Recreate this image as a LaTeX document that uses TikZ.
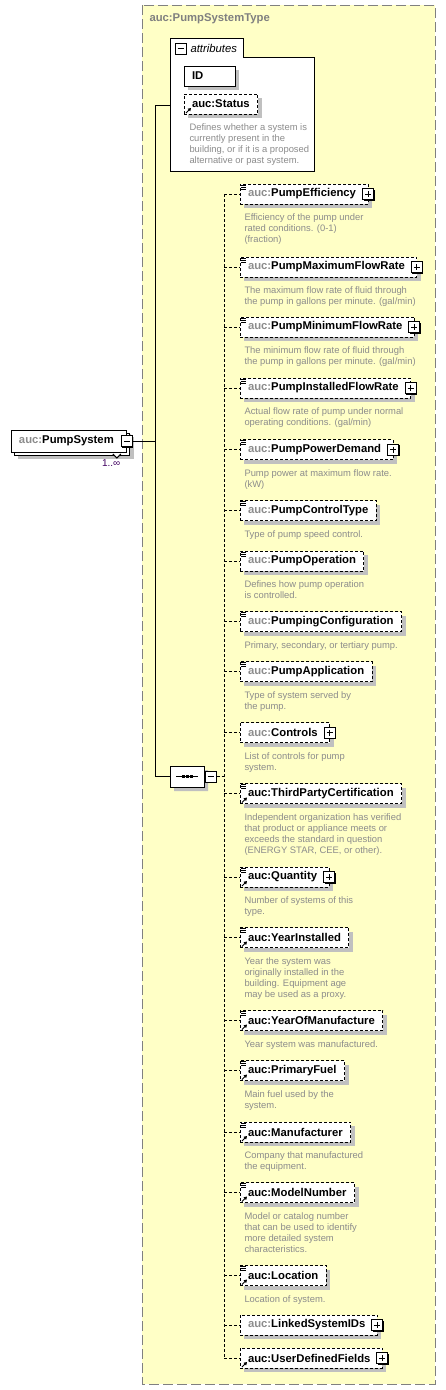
\documentclass[tikz,border=0pt]{standalone}
\usepackage{fontspec}
\setmainfont{Liberation Sans}
\usetikzlibrary{arrows.meta,positioning,shadows,shapes.misc}

\definecolor{typefill}{HTML}{FFFFC6}
\definecolor{typeline}{HTML}{808080}
\definecolor{auccol}{HTML}{8C8C8C}
\definecolor{doccol}{HTML}{8C8C8C}
\definecolor{shade}{HTML}{C0C0C0}
\definecolor{occurs}{HTML}{400060}

\newcommand{\auc}{\textcolor{auccol}{auc:}}
\newcommand{\pad}[1]{\hspace*{#1}\null}
\newcommand{\docicon}[1]{%
  \draw [line width=.7pt] ([shift={(1,1)}]#1.north west) -- ++(5,0)
    ([shift={(1,3)}]#1.north west) -- ++(5,0)
    ([shift={(1,5)}]#1.north west) -- ++(5,0);}
\newcommand{\refarrow}[1]{%
  \draw [-{Triangle[length=3pt,width=3.5pt]}] ([shift={(2,-1)}]#1.south west) -- ++(5,-5);}

\begin{document}
\begin{tikzpicture}[
  x=1pt, y=-1pt,
  line width=1pt,
  element/.style={draw, fill=white, anchor=west, minimum height=20pt,
    inner xsep=8pt, inner ysep=0pt, outer sep=0pt,
    font=\fontsize{11.3}{13}\selectfont\bfseries,
    general shadow={fill=shade, shadow xshift=4pt, shadow yshift=-4pt}},
  optional/.style={element, dash pattern=on 3pt off 2pt},
  docs/.style={inner sep=0pt, align=left, text=doccol,
    font=\fontsize{9.4}{11}\selectfont},
  plusbox/.style={draw, fill=white, minimum size=11pt, inner sep=0pt,
    general shadow={fill=black, shadow xshift=1pt, shadow yshift=-1pt},
    path picture={\draw [line width=1pt]
      ([xshift=2.5pt]path picture bounding box.west) -- ([xshift=-2.5pt]path picture bounding box.east)
      ([yshift=-2.5pt]path picture bounding box.north) -- ([yshift=2.5pt]path picture bounding box.south);}},
  minusbox/.style={draw, fill=white, minimum size=11pt, inner sep=0pt,
    general shadow={fill=black, shadow xshift=1pt, shadow yshift=-1pt},
    path picture={\draw [line width=1pt]
      ([xshift=2.5pt]path picture bounding box.west) -- ([xshift=-2.5pt]path picture bounding box.east);}},
  seqbox/.style={chamfered rectangle, chamfered rectangle xsep=5pt, draw, fill=white,
    minimum width=34pt, minimum height=21pt, inner sep=0pt,
    general shadow={fill=shade, shadow xshift=4pt, shadow yshift=-4pt}},
  dashwire/.style={dash pattern=on 3pt off 2pt}
  ]
\useasboundingbox (0,0) rectangle (446,1390);
%\draw [ultra thin, lightgray] (0,0) grid (446,1390);

% the complex type
\draw [dash pattern=on 10pt off 4pt, draw=typeline, fill=typefill] (142,5) rectangle (435,1384);
\node [anchor=west, inner sep=0pt, text=typeline, font=\fontsize{11.3}{13}\selectfont\bfseries] (typename) at (149,19) {auc:PumpSystemType};

% attributes
\draw [fill=white] (170,38) -- (243,38) -- (243,57) -- (314,57) -- (314,171) -- (170,171) -- cycle;
\coordinate (attr) at (170,105);
\node [minusbox] (attrm) at (180.5,48.5) {};
\node [anchor=west, inner sep=0pt, font=\fontsize{11.3}{13}\selectfont\itshape] (attrname) at (190,48) {attributes};
\node [element, text width=35pt, align=left] (id) at (184,76) {ID};
\node [optional] (status) at (184,104) {auc:Status};
\refarrow{status}
\node [docs, below right=9.5pt and 5pt of status.south west] (statusdoc) {Defines whether a system is\\currently present in the\\building, or if it is a proposed\\alternative or past system.};

% the element itself
\node [element, minimum height=22pt,
  general shadow={fill=shade, shadow xshift=7pt, shadow yshift=-7pt},
  general shadow={fill=white, draw=black, shadow xshift=3pt, shadow yshift=-3pt}] (ps) at (11,441) {\auc PumpSystem\pad{5pt}};
\draw [fill=white] ([shift={(-14,2)}]ps.south east) -- ++(4,4) -- ++(4,-4);
\node [minusbox] (psm) at (ps.east) {};
\node [anchor=north east, inner sep=0pt, text=occurs, font=\fontsize{10}{12}\selectfont] (occ) at ([shift={(-6,7)}]ps.south east) {1..∞};

% sequence
\node [seqbox] (seq) at (187,776.5) {};
\draw ([xshift=-11pt]seq.center) -- ([xshift=11pt]seq.center);
\fill ([shift={(-5.5,-1.5)}]seq.center) rectangle ++(3,3);
\fill ([shift={(-1.5,-1.5)}]seq.center) rectangle ++(3,3);
\fill ([shift={(2.5,-1.5)}]seq.center) rectangle ++(3,3);
\node [minusbox, anchor=west] (seqm) at (seq.east) {};

\coordinate (spine) at (155,441);
\draw (psm.east) -- (spine);
\draw (spine |- attr) -- (spine |- seq.west);
\draw (spine |- attr) -- (attr);
\draw (spine |- seq.west) -- (seq.west);
\coordinate (trunk) at (224,777);
\draw [dashwire] (seqm.east) -- (trunk |- seqm.east);

% children
\node [optional] (eff) at (240,194) {\auc PumpEfficiency\pad{4pt}};
\node [plusbox] (effp) at (eff.east) {};
\docicon{eff}
\node [docs, below right=9.5pt and 4pt of eff.south west] (effdoc) {Efficiency of the pump under\\rated conditions. (0-1)\\(fraction)};

\node [optional] (maxf) at (240,267) {\auc PumpMaximumFlowRate\pad{4pt}};
\node [plusbox] (maxfp) at (maxf.east) {};
\docicon{maxf}
\node [docs, below right=9.5pt and 4pt of maxf.south west] (maxfdoc) {The maximum flow rate of fluid through\\the pump in gallons per minute. (gal/min)};

\node [optional] (minf) at (240,327) {\auc PumpMinimumFlowRate\pad{4pt}};
\node [plusbox] (minfp) at (minf.east) {};
\docicon{minf}
\node [docs, below right=9.5pt and 4pt of minf.south west] (minfdoc) {The minimum flow rate of fluid through\\the pump in gallons per minute. (gal/min)};

\node [optional] (inst) at (240,388) {\auc PumpInstalledFlowRate\pad{4pt}};
\node [plusbox] (instp) at (inst.east) {};
\docicon{inst}
\node [docs, below right=9.5pt and 4pt of inst.south west] (instdoc) {Actual flow rate of pump under normal\\operating conditions. (gal/min)};

\node [optional] (pow) at (240,449.5) {\auc PumpPowerDemand\pad{4pt}};
\node [plusbox] (powp) at (pow.east) {};
\docicon{pow}
\node [docs, below right=9.5pt and 4pt of pow.south west] (powdoc) {Pump power at maximum flow rate.\\(kW)};

\node [optional] (ctl) at (240,510.5) {\auc PumpControlType};
\docicon{ctl}
\node [docs, below right=9.5pt and 4pt of ctl.south west] (ctldoc) {Type of pump speed control.};

\node [optional] (oper) at (240,561) {\auc PumpOperation};
\docicon{oper}
\node [docs, below right=9.5pt and 4pt of oper.south west] (operdoc) {Defines how pump operation\\is controlled.};

\node [optional] (conf) at (240,621.5) {\auc PumpingConfiguration};
\docicon{conf}
\node [docs, below right=9.5pt and 4pt of conf.south west] (confdoc) {Primary, secondary, or tertiary pump.};

\node [optional] (app) at (240,671.5) {\auc PumpApplication};
\docicon{app}
\node [docs, below right=9.5pt and 4pt of app.south west] (appdoc) {Type of system served by\\the pump.};

\node [optional] (ctrls) at (240,732.5) {\auc Controls\pad{4pt}};
\node [plusbox] (ctrlsp) at (ctrls.east) {};
\node [docs, below right=9.5pt and 4pt of ctrls.south west] (ctrlsdoc) {List of controls for pump\\system.};

\node [optional] (tpc) at (240,793.5) {auc:ThirdPartyCertification};
\docicon{tpc}
\refarrow{tpc}
\node [docs, below right=9.5pt and 4pt of tpc.south west] (tpcdoc) {Independent organization has verified\\that product or appliance meets or\\exceeds the standard in question\\(ENERGY STAR, CEE, or other).};

\node [optional] (qty) at (240,877) {auc:Quantity\pad{4pt}};
\node [plusbox] (qtyp) at (qty.east) {};
\docicon{qty}
\refarrow{qty}
\node [docs, below right=9.5pt and 4pt of qty.south west] (qtydoc) {Number of systems of this\\type.};

\node [optional] (yins) at (240,937.5) {auc:YearInstalled};
\docicon{yins}
\refarrow{yins}
\node [docs, below right=9.5pt and 4pt of yins.south west] (yinsdoc) {Year the system was\\originally installed in the\\building. Equipment age\\may be used as a proxy.};

\node [optional] (yman) at (240,1020.5) {auc:YearOfManufacture};
\docicon{yman}
\refarrow{yman}
\node [docs, below right=9.5pt and 4pt of yman.south west] (ymandoc) {Year system was manufactured.};

\node [optional] (fuel) at (240,1070.5) {auc:PrimaryFuel};
\docicon{fuel}
\refarrow{fuel}
\node [docs, below right=9.5pt and 4pt of fuel.south west] (fueldoc) {Main fuel used by the\\system.};

\node [optional] (manu) at (240,1132) {auc:Manufacturer};
\docicon{manu}
\refarrow{manu}
\node [docs, below right=9.5pt and 4pt of manu.south west] (manudoc) {Company that manufactured\\the equipment.};

\node [optional] (model) at (240,1192.5) {auc:ModelNumber};
\docicon{model}
\refarrow{model}
\node [docs, below right=9.5pt and 4pt of model.south west] (modeldoc) {Model or catalog number\\that can be used to identify\\more detailed system\\characteristics.};

\node [optional] (loc) at (240,1275.5) {auc:Location};
\docicon{loc}
\refarrow{loc}
\node [docs, below right=9.5pt and 4pt of loc.south west] (locdoc) {Location of system.};

\node [optional] (link) at (240,1325) {\auc LinkedSystemIDs\pad{4pt}};
\node [plusbox] (linkp) at (link.east) {};

\node [optional] (udf) at (240,1358) {auc:UserDefinedFields\pad{4pt}};
\node [plusbox] (udfp) at (udf.east) {};
\refarrow{udf}

% dashed connectors
\draw [dashwire] (trunk |- eff.west) -- (trunk |- udf.west);
\draw [dashwire] (trunk |- eff.west) -- (eff.west);
\draw [dashwire] (trunk |- maxf.west) -- (maxf.west);
\draw [dashwire] (trunk |- minf.west) -- (minf.west);
\draw [dashwire] (trunk |- inst.west) -- (inst.west);
\draw [dashwire] (trunk |- pow.west) -- (pow.west);
\draw [dashwire] (trunk |- ctl.west) -- (ctl.west);
\draw [dashwire] (trunk |- oper.west) -- (oper.west);
\draw [dashwire] (trunk |- conf.west) -- (conf.west);
\draw [dashwire] (trunk |- app.west) -- (app.west);
\draw [dashwire] (trunk |- ctrls.west) -- (ctrls.west);
\draw [dashwire] (trunk |- tpc.west) -- (tpc.west);
\draw [dashwire] (trunk |- qty.west) -- (qty.west);
\draw [dashwire] (trunk |- yins.west) -- (yins.west);
\draw [dashwire] (trunk |- yman.west) -- (yman.west);
\draw [dashwire] (trunk |- fuel.west) -- (fuel.west);
\draw [dashwire] (trunk |- manu.west) -- (manu.west);
\draw [dashwire] (trunk |- model.west) -- (model.west);
\draw [dashwire] (trunk |- loc.west) -- (loc.west);
\draw [dashwire] (trunk |- link.west) -- (link.west);
\draw [dashwire] (trunk |- udf.west) -- (udf.west);
\end{tikzpicture}
\end{document}
